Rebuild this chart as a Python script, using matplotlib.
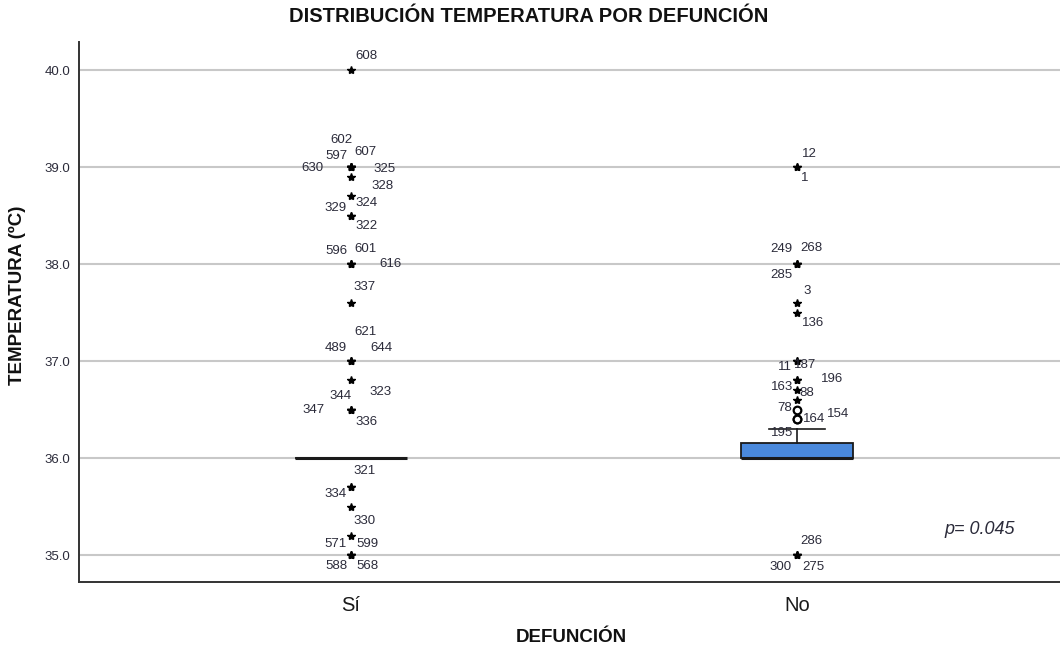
import matplotlib
matplotlib.use("Agg")
import matplotlib.pyplot as plt

plt.rcParams['font.family'] = ['Liberation Sans', 'DejaVu Sans']

# groups and box statistics (q1, median, q3, whisker low, whisker high)
groups = ["Sí", "No"]
q1 = [36.0, 36.0]
median = [36.0, 36.0]
q3 = [36.0, 36.15]
whisker_low = [36.0, 36.0]
whisker_high = [36.0, 36.3]

# outlying cases: case number and temperature
si_cases = [608, 602, 597, 607, 630, 325, 328, 324, 329, 322, 596, 601, 616, 337,
            621, 489, 644, 323, 344, 347, 336, 321, 334, 330, 571, 599, 588, 568]
si_temps = [40.0, 39.0, 39.0, 39.0, 39.0, 39.0, 38.9, 38.7, 38.5, 38.5, 38.0, 38.0, 38.0, 37.6,
            37.0, 37.0, 37.0, 36.8, 36.5, 36.5, 36.5, 35.7, 35.7, 35.5, 35.2, 35.0, 35.0, 35.0]
no_cases = [12, 1, 249, 268, 285, 3, 136, 11, 187, 196, 163, 88, 78, 154, 164, 195, 286, 300, 275]
no_temps = [39.0, 39.0, 38.0, 38.0, 38.0, 37.6, 37.5, 37.0, 37.0, 36.8, 36.8, 36.7, 36.6, 36.5,
            36.4, 36.4, 35.0, 35.0, 35.0]

# label offsets (pixels, right / down) for each case label
si_offsets = [(15, -14), (-10, -27), (-15, -11), (14, -15), (-39, 1), (34, 2), (32, 9), (16, 7),
              (-15, -8), (16, 10), (-15, -13), (14, -15), (39, 0), (14, -16), (14, -29), (-15, -13),
              (30, -13), (30, 12), (-10, -14), (-37, 0), (16, 12), (14, -16), (-15, 7), (14, 14),
              (-15, 8), (16, -11), (-15, 11), (16, 11)]
no_offsets = [(12, -13), (8, 11), (-16, -15), (14, -16), (-16, 11), (10, -12), (16, 10), (-12, 6),
              (8, 4), (35, -1), (-15, 7), (10, 3), (-12, 8), (41, 4), (17, 0), (-15, 14),
              (14, -14), (-16, 12), (16, 12)]

p_text = "p= 0.045"

fig = plt.figure(figsize=(10.6, 6.52), dpi=100)
ax = fig.add_axes([79 / 1060, 70 / 652, 981 / 1060, 540 / 652])

positions = [1, 2]
stats = []
for i in range(len(groups)):
    stats.append({"label": groups[i], "q1": q1[i], "med": median[i], "q3": q3[i],
                  "whislo": whisker_low[i], "whishi": whisker_high[i], "fliers": []})

ax.bxp(stats, positions=positions, widths=0.25, capwidths=0.125, patch_artist=True,
       showfliers=False,
       boxprops=dict(facecolor="#4a89dc", edgecolor="#1a1a1a", linewidth=1.3),
       medianprops=dict(color="#1a1a1a", linewidth=2.2),
       whiskerprops=dict(color="#1a1a1a", linewidth=1.2),
       capprops=dict(color="#1a1a1a", linewidth=1.2))

# outliers: circles beyond 1.5 IQR, stars beyond 3 IQR
all_cases = [si_cases, no_cases]
all_temps = [si_temps, no_temps]
all_offsets = [si_offsets, no_offsets]
px = 0.72  # points per pixel
for i in range(len(groups)):
    iqr = q3[i] - q1[i]
    for case, t, off in zip(all_cases[i], all_temps[i], all_offsets[i]):
        extreme = t > q3[i] + 3 * iqr or t < q1[i] - 3 * iqr
        if extreme:
            ax.plot(positions[i], t, marker="*", color="black", markersize=6, zorder=4)
        else:
            ax.plot(positions[i], t, marker="o", markerfacecolor="white",
                    markeredgecolor="black", markeredgewidth=1.6, markersize=5.5, zorder=4)
        ax.annotate(str(case), (positions[i], t), xytext=(off[0] * px, -off[1] * px),
                    textcoords="offset points", ha="center", va="center",
                    fontsize=9.5, color="#2b2b3a", zorder=5)

ax.set_xlim(0.39, 2.59)
ax.set_ylim(34.722, 40.289)
ax.set_yticks([35, 36, 37, 38, 39, 40])
ax.set_yticklabels(["35.0", "36.0", "37.0", "38.0", "39.0", "40.0"])
ax.set_xticks(positions)
ax.set_xticklabels(groups)
ax.yaxis.grid(True, color="#c8c8c8", linewidth=1.5)
ax.set_axisbelow(True)
ax.tick_params(axis="y", length=0, pad=6, labelsize=9.5, labelcolor="#2b2b3a")
ax.tick_params(axis="x", length=0, pad=10, labelsize=14.5, labelcolor="#1a1a1a")
for s in ["top", "right"]:
    ax.spines[s].set_visible(False)
for s in ["left", "bottom"]:
    ax.spines[s].set_color("#333333")
    ax.spines[s].set_linewidth(1.4)

fig.text(0.499, 1 - 17 / 652, "DISTRIBUCIÓN TEMPERATURA POR DEFUNCIÓN", ha="center",
         va="center", fontsize=14.5, fontweight="bold", color="#111111")
fig.text(571 / 1060, 1 - 637 / 652, "DEFUNCIÓN", ha="center", va="center",
         fontsize=13.5, fontweight="bold", color="#111111")
fig.text(17 / 1060, 1 - 295 / 652, "TEMPERATURA (ºC)", ha="center", va="center",
         rotation=90, fontsize=13.5, fontweight="bold", color="#111111")
fig.text(980 / 1060, 1 - 529 / 652, p_text, ha="center", va="center",
         fontsize=13, style="italic", color="#2b2b3a")

fig.savefig("out.png", dpi=100)
